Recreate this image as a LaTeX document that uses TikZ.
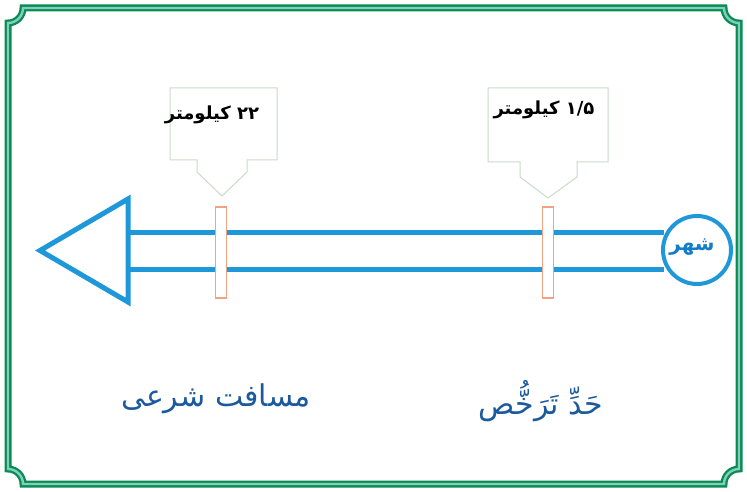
\documentclass[tikz,border=0pt]{standalone}
\usepackage{fontspec}
\TeXXeTstate=1
\newfontfamily\arabicfont[Script=Arabic]{DejaVu Sans}
\definecolor{framedark}{RGB}{10,140,80}
\definecolor{framelight}{RGB}{130,205,195}
\definecolor{arrowblue}{RGB}{30,152,216}
\definecolor{textblue}{RGB}{28,90,158}
\definecolor{cityblue}{RGB}{20,125,200}
\definecolor{markorange}{RGB}{244,160,130}
\definecolor{boxgray}{RGB}{200,220,200}
\tikzset{
  bluestroke/.style={draw=arrowblue, line width=5pt},
  marker/.style={draw=markorange, fill=white, line width=1.4pt},
  callout/.style={draw=boxgray, fill=white, line width=1pt, line join=miter},
  boxtext/.style={font=\arabicfont\bfseries\fontsize{18}{20}\selectfont, text=black, inner sep=0pt},
  labeltext/.style={font=\arabicfont\fontsize{30}{34}\selectfont, text=textblue, inner sep=0pt},
}
\begin{document}
\begin{tikzpicture}[x=1pt,y=1pt]
\useasboundingbox (0,0) rectangle (747,491);
\fill[white] (0,0) rectangle (747,491);
% frame
\def\framepath{(23,483) -- (724,483) arc(180:270:15) -- (739,22) arc(90:180:15) -- (23,7) arc(0:90:15) -- (8,468) arc(270:360:15) -- cycle}
\draw[framedark, line width=7pt] \framepath;
\draw[framelight, line width=2.4pt] \framepath;
% arrow shaft
\coordinate (shaftTL) at (128,259);
\coordinate (shaftBL) at (128,222);
\coordinate (shaftTR) at (664,259);
\coordinate (shaftBR) at (664,222);
\draw[bluestroke] (shaftTL) -- (shaftTR);
\draw[bluestroke] (shaftBL) -- (shaftBR);
% arrow head
\coordinate (tip) at (40,240.5);
\coordinate (headT) at (128,292);
\coordinate (headB) at (128,189);
\draw[bluestroke, line join=miter] (tip) -- (headT) -- (headB) -- cycle;
% city circle
\node[circle, draw=arrowblue, fill=white, line width=4pt, minimum size=68pt, inner sep=0pt] (city) at (697,241) {};
\node[font=\arabicfont\bfseries\fontsize{20}{22}\selectfont, text=cityblue, inner sep=0pt] (citytext) at (692,244) {\beginR شهر\endR};
% markers
\node[marker, minimum width=11pt, minimum height=91pt, inner sep=0pt] (m1) at (221,238.5) {};
\node[marker, minimum width=11pt, minimum height=91pt, inner sep=0pt] (m2) at (548,238.5) {};
% callouts
\draw[callout] (170,403) -- (277,403) -- (277,331) -- (247,331) -- (247,319) -- (222,295) -- (197,319) -- (197,331) -- (170,331) -- cycle;
\draw[callout] (488,403) -- (608,403) -- (608,329) -- (577,329) -- (577,314) -- (548,293) -- (520,314) -- (520,329) -- (488,329) -- cycle;
\node[boxtext] (t1) at (212,376) {\beginR ۲۲ کیلومتر\endR};
\node[boxtext] (t2) at (544,381) {\beginR \beginL۱/۵\endL{} کیلومتر\endR};
% labels
\node[labeltext] (lab1) at (216,92) {\beginR مسافت شرعی\endR};
\node[labeltext] (lab2) at (541,90) {\beginR حَدِّ تَرَخُّص\endR};
\end{tikzpicture}
\end{document}
